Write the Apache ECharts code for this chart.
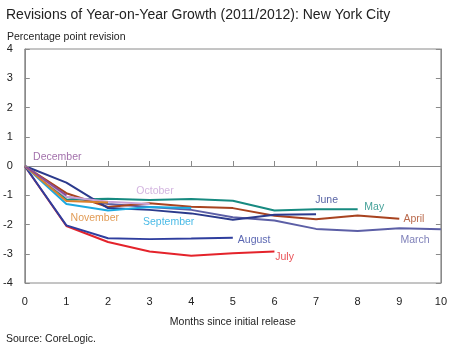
<!DOCTYPE html>
<html><head><meta charset="utf-8">
<script src="https://cdn.jsdelivr.net/npm/echarts@6/dist/echarts.min.js"></script>
<style>html,body{margin:0;padding:0;background:#fff}#c{width:450px;height:344px}</style>
</head><body><div id="c"></div>
<script>
var months = [0,1,2,3,4,5,6,7,8,9,10];
var yTicks = [-4,-3,-2,-1,0,1,2,3,4];
var seriesNames = ['March','April','May','June','July','August','September','October','November','December'];
var march     = [0, -1.05, -1.30, -1.40, -1.50, -1.75, -1.86, -2.15, -2.22, -2.13, -2.16];
var april     = [0, -0.93, -1.40, -1.27, -1.39, -1.44, -1.70, -1.82, -1.69, -1.80];
var may       = [0, -1.15, -1.12, -1.16, -1.13, -1.19, -1.52, -1.48, -1.48];
var june      = [0, -0.57, -1.44, -1.50, -1.62, -1.84, -1.67, -1.65];
var july      = [0, -2.05, -2.60, -2.92, -3.07, -2.98, -2.92];
var august    = [0, -2.03, -2.47, -2.50, -2.48, -2.45];
var september = [0, -1.30, -1.52, -1.40, -1.44];
var october   = [0, -1.05, -1.22, -1.30];
var november  = [0, -1.20, -1.25];
var december  = [0, -1.00];

var values = [march, april, may, june, july, august, september, october, november, december];
var colors = ['#5c5fa6','#a8431f','#178a80','#2b3a8c','#e4232b','#2f3e9e','#1ba9e0','#c8a2d8','#d9822b','#8b4c96'];
// label anchors in data coordinates (left edge, vertical centre)
var labelAt = [[9.03,-2.53],[9.1,-1.81],[8.16,-1.4],[6.98,-1.16],[6.02,-3.1],[5.12,-2.53],[2.84,-1.91],[2.68,-0.85],[1.1,-1.77],[0.2,0.31]];

var FONT = 'Liberation Sans, Arial, sans-serif';
var series = [];
values.forEach(function(v, i){
  series.push({
    type:'line', name: seriesNames[i], data: v.map(function(y, j){return [months[j], y];}),
    symbol:'none', lineStyle:{width:2, color:colors[i]}, itemStyle:{color:colors[i]},
    z: 3, animation:false
  });
  series.push({
    type:'scatter', data:[labelAt[i]], symbolSize:0, silent:true, animation:false,
    label:{show:true, position:'right', distance:0, formatter: seriesNames[i],
      color:colors[i], fontSize:10.5, fontFamily:FONT}
  });
});
series.push({type:'line', data:[], markLine:{silent:true, symbol:'none', label:{show:false},
  lineStyle:{color:'#8a8a8a', width:1, type:'solid'}, data:[{yAxis:0}]}, animation:false});

var chart = echarts.init(document.getElementById('c'));
chart.setOption({
  animation:false,
  title:[{text:'Revisions of Year-on-Year Growth (2011/2012): New York City', left:1, top:3,
     textStyle:{fontSize:14, fontWeight:'normal', color:'#222', fontFamily:FONT}},
    {text:'Percentage point revision', left:2, top:27, textStyle:{fontSize:10.5, fontWeight:'normal', color:'#222', fontFamily:FONT}},
    {text:'Source: CoreLogic.', left:1, top:329, textStyle:{fontSize:10.5, fontWeight:'normal', color:'#222', fontFamily:FONT}}],
  grid:{left:23, right:2, top:49, bottom:61, show:true, borderColor:'#8a8a8a', borderWidth:1},
  xAxis:{type:'value', min:0, max:10, interval:1, name:'Months since initial release', nameLocation:'middle', nameGap:34,
    nameTextStyle:{fontSize:10.5, color:'#222', fontFamily:FONT},
    axisLine:{lineStyle:{color:'#8a8a8a'}}, axisTick:{inside:true, length:5, lineStyle:{color:'#8a8a8a'}},
    axisLabel:{fontSize:11, color:'#222', margin:13, fontFamily:FONT}, splitLine:{show:false}},
  yAxis:[{type:'value', min:-4, max:4, interval:1,
    axisLine:{show:true, lineStyle:{color:'#8a8a8a'}}, axisTick:{show:true, inside:true, length:5, lineStyle:{color:'#8a8a8a'}},
    axisLabel:{fontSize:11, color:'#222', margin:12, fontFamily:FONT}, splitLine:{show:false}},
    {type:'value', min:-4, max:4, interval:1, position:'right',
    axisLine:{show:true, lineStyle:{color:'#8a8a8a'}}, axisTick:{show:true, inside:true, length:5, lineStyle:{color:'#8a8a8a'}},
    axisLabel:{show:false}, splitLine:{show:false}}],
  series: series
});
</script></body></html>
